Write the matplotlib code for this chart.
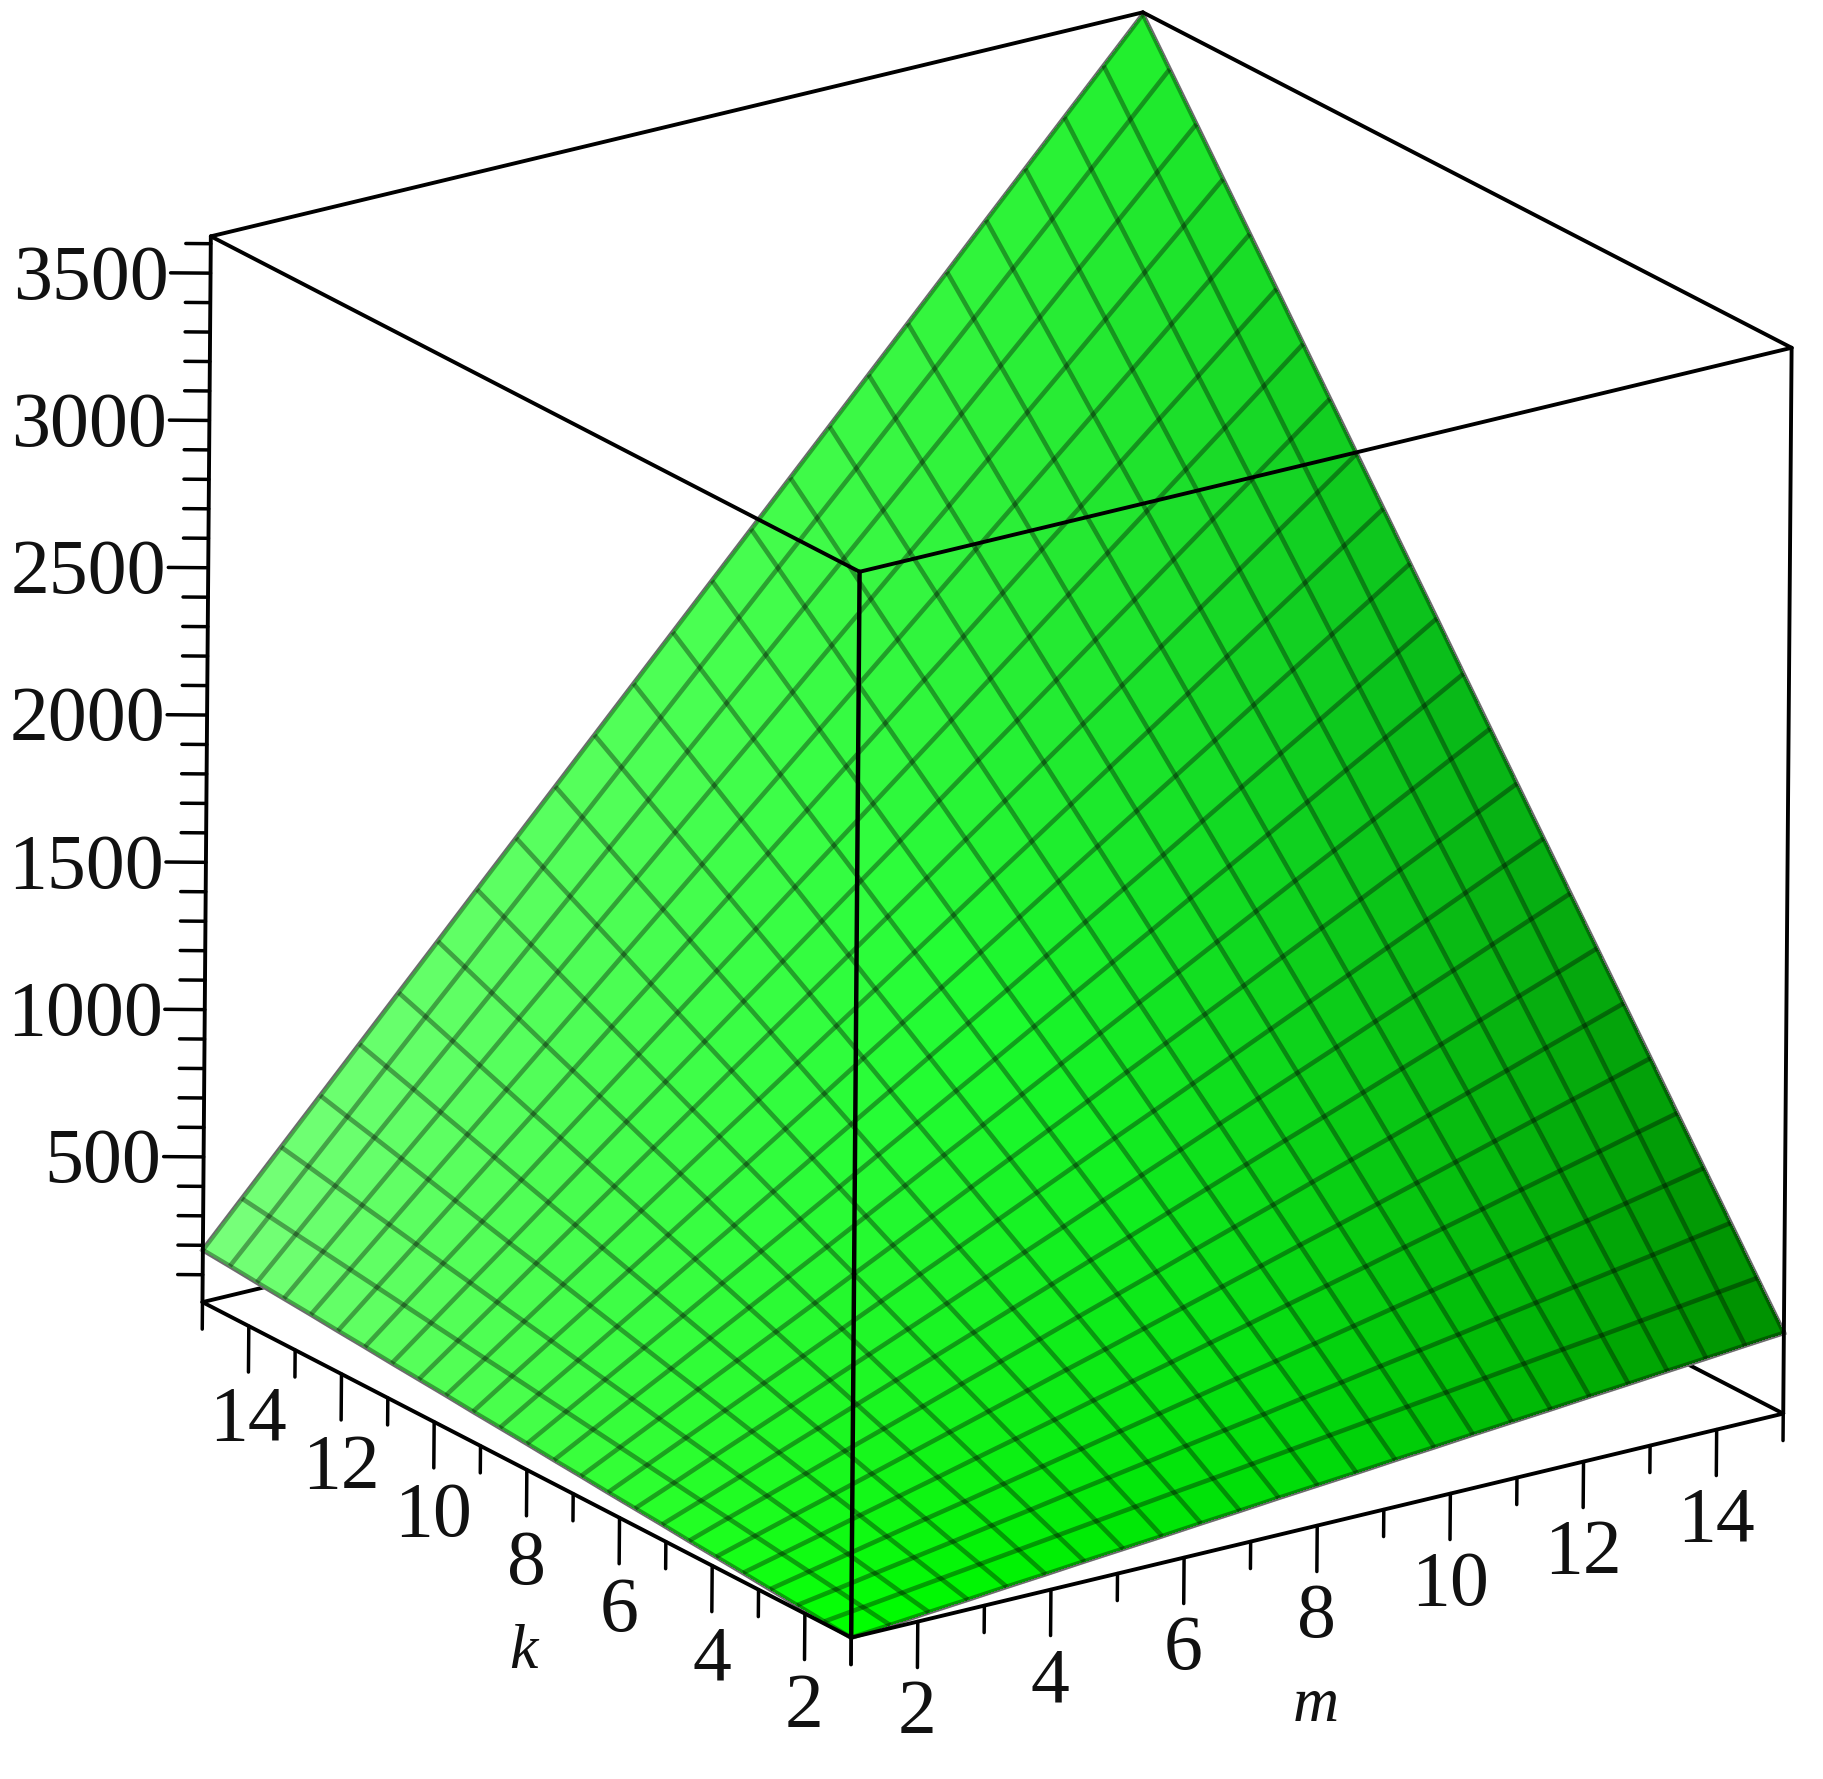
import numpy as np
import matplotlib
matplotlib.use('Agg')
from matplotlib import pyplot as plt
from mpl_toolkits.mplot3d import proj3d

z_rows = [
[7,18,30,41,53,64,76,87,98,110,121,133,144,155,167,178,190,201,212,224,235,247,258,270,281],
[14,31,48,65,82,99,116,133,150,167,183,200,217,234,251,268,285,302,319,336,352,369,386,403,420],
[22,44,67,89,111,134,156,179,201,223,246,268,290,313,335,358,380,402,425,447,470,492,514,537,559],
[29,57,85,113,141,168,196,224,252,280,308,336,364,391,419,447,475,503,531,559,587,614,642,670,698],
[37,70,103,137,170,203,237,270,303,337,370,403,437,470,504,537,570,604,637,670,704,737,770,804,837],
[44,83,122,160,199,238,277,316,355,394,432,471,510,549,588,627,665,704,743,782,821,860,899,937,976],
[51,96,140,184,229,273,317,362,406,450,495,539,583,628,672,716,761,805,849,894,938,982,1027,1071,1115],
[59,108,158,208,258,308,358,407,457,507,557,607,656,706,756,806,856,905,955,1005,1055,1105,1155,1204,1254],
[66,121,177,232,287,343,398,453,508,564,619,674,730,785,840,896,951,1006,1061,1117,1172,1227,1283,1338,1393],
[73,134,195,256,317,377,438,499,560,620,681,742,803,864,924,985,1046,1107,1168,1228,1289,1350,1411,1472,1532],
[81,147,213,280,346,412,478,545,611,677,744,810,876,942,1009,1075,1141,1207,1274,1340,1406,1473,1539,1605,1671],
[88,160,232,303,375,447,519,590,662,734,806,877,949,1021,1093,1165,1236,1308,1380,1452,1523,1595,1667,1739,1810],
[96,173,250,327,404,482,559,636,713,791,868,945,1022,1100,1177,1254,1331,1409,1486,1563,1640,1718,1795,1872,1949],
[103,186,268,351,434,517,599,682,765,848,930,1013,1096,1178,1261,1344,1427,1509,1592,1675,1758,1840,1923,2006,2089],
[110,199,287,375,463,551,640,728,816,904,993,1081,1169,1257,1345,1434,1522,1610,1698,1786,1875,1963,2051,2139,2228],
[118,211,305,399,492,586,680,774,867,961,1055,1148,1242,1336,1430,1523,1617,1711,1804,1898,1992,2085,2179,2273,2367],
[125,224,323,423,522,621,720,819,919,1018,1117,1216,1315,1414,1514,1613,1712,1811,1910,2010,2109,2208,2307,2406,2506],
[132,237,342,446,551,656,761,865,970,1075,1179,1284,1389,1493,1598,1703,1807,1912,2017,2121,2226,2331,2435,2540,2645],
[140,250,360,470,580,691,801,911,1021,1131,1241,1352,1462,1572,1682,1792,1902,2012,2123,2233,2343,2453,2563,2673,2784],
[147,263,378,494,610,725,841,957,1072,1188,1304,1419,1535,1651,1766,1882,1997,2113,2229,2344,2460,2576,2691,2807,2923],
[155,276,397,518,639,760,881,1002,1124,1245,1366,1487,1608,1729,1850,1971,2093,2214,2335,2456,2577,2698,2820,2941,3062],
[162,289,415,542,668,795,922,1048,1175,1301,1428,1555,1681,1808,1935,2061,2188,2314,2441,2568,2694,2821,2948,3074,3201],
[169,301,433,566,698,830,962,1094,1226,1358,1490,1623,1755,1887,2019,2151,2283,2415,2547,2679,2811,2944,3076,3208,3340],
[177,314,452,589,727,865,1002,1140,1277,1415,1553,1690,1828,1965,2103,2241,2378,2516,2653,2791,2929,3066,3204,3341,3479],
[184,327,470,613,756,899,1042,1186,1329,1472,1615,1758,1901,2044,2187,2330,2473,2616,2759,2902,3046,3189,3332,3475,3618],
]
m_ticks = [1,2,3,4,5,6,7,8,9,10,11,12,13,14,15]
k_ticks = [1,2,3,4,5,6,7,8,9,10,11,12,13,14,15]
z_ticks = list(range(100, 3700, 100))

M_LO, M_HI = 1, 15
Z_LO, Z_HI = 7, 3625

# colours of the shaded sheet: rows k low/mid/high, columns m low/mid/high
shade = np.array([[[0,255,0],[0,218,10],[0,140,0]],
                  [[68,255,72],[28,252,46],[8,184,24]],
                  [[122,255,125],[78,255,85],[32,242,45]]]) / 255.0

W, H = 1824, 1779
AZ = -125
ELEV = 20.8
EDGE_PX = 1137.0   # length of a box edge on screen
ZED_PX = 1067.0    # height of the box on screen
LW = 2.8

fig = plt.figure(figsize=(W/100, H/100), dpi=100)
side = 1912.0
ax = fig.add_axes([15.2/W, -27.8/H, side/W, side/H], projection='3d')
ax.set_proj_type('ortho')
ax.view_init(elev=ELEV, azim=AZ, roll=-0.45)
ax.set_box_aspect((1, 1, 1.004))
ax.set_xlim(M_LO, M_HI, view_margin=0)
ax.set_ylim(M_LO, M_HI, view_margin=0)
ax.set_zlim(Z_LO, Z_HI, view_margin=0)
ax.set_axis_off()
ax.computed_zorder = False
ax.patch.set_alpha(0)

Z = np.array(z_rows, dtype=float)
mm, kk = np.meshgrid(np.linspace(M_LO, M_HI, Z.shape[1]), np.linspace(M_LO, M_HI, Z.shape[0]))

# face colours
n = Z.shape[0]
u = np.linspace(0, 2, n)
fc = np.zeros((n, n, 4))
fc[..., 3] = 1
for i in range(n):
    for j in range(n):
        a = min(int(u[i]), 1); b = min(int(u[j]), 1)
        s = u[i]-a; t = u[j]-b
        fc[i, j, :3] = (shade[a,b]*(1-s)*(1-t) + shade[a,b+1]*(1-s)*t
                        + shade[a+1,b]*s*(1-t) + shade[a+1,b+1]*s*t)


def box_line(p, q, z=5, lw=LW):
    ax.plot([p[0], q[0]], [p[1], q[1]], [p[2], q[2]], color='k', lw=lw, zorder=z,
            solid_capstyle='round')


def label(x, y, z, s, **kw):
    # place the text where the 3d point lands on screen
    px, py, _ = proj3d.proj_transform(x, y, z, ax.get_proj())
    ax.text2D(px, py, s, transform=ax.transData, zorder=6, **kw)


E = (M_LO, M_LO, Z_LO); G = (M_HI, M_LO, Z_LO); C = (M_LO, M_HI, Z_LO); H_ = (M_HI, M_HI, Z_LO)
D = (M_LO, M_LO, Z_HI); F = (M_HI, M_LO, Z_HI); B = (M_LO, M_HI, Z_HI); A = (M_HI, M_HI, Z_HI)

# hidden behind the sheet
box_line(C, H_, z=1)
box_line(G, H_, z=1)
box_line(H_, A, z=1)

# soft grey rim of the sheet
for xs, ys, zs in [(mm[0], kk[0], Z[0]), (mm[-1], kk[-1], Z[-1]),
                   (mm[:, 0], kk[:, 0], Z[:, 0]), (mm[:, -1], kk[:, -1], Z[:, -1])]:
    ax.plot(xs, ys, zs, color='#a8a8a8', lw=3.6, zorder=1.5)

ax.plot_surface(mm, kk, Z, rstride=1, cstride=1, facecolors=fc, shade=False,
                linewidth=0, antialiased=False, zorder=2)
ax.plot_wireframe(mm, kk, Z, rstride=1, cstride=1, color='k', alpha=0.36, linewidth=3.3, zorder=3)

for p, q in [(C, E), (E, G), (B, C), (F, G), (B, A), (A, F), (B, D), (D, F)]:
    box_line(p, q)
box_line(D, E, lw=3.2)

# screen-left and screen-down expressed in data units
left = np.array([np.sin(np.radians(AZ)), -np.cos(np.radians(AZ))]) * (M_HI-M_LO) / EDGE_PX
down = (Z_HI-Z_LO) / ZED_PX

font = {'family': 'Liberation Serif', 'fontsize': 56, 'color': '#111111'}

for v in z_ticks:
    ln = 40 if v % 500 == 0 else 25
    box_line((M_LO, M_HI, v), (M_LO+left[0]*ln, M_HI+left[1]*ln, v), z=4, lw=2.5)
    if v % 500 == 0:
        label(M_LO+left[0]*(ln+2), M_HI+left[1]*(ln+2), v-down*7, str(v), ha='right', va='center', **font)

for v in m_ticks:
    ln = 46 if v % 2 == 0 else 27
    box_line((v, M_LO, Z_LO), (v, M_LO, Z_LO-down*ln), z=4, lw=2.5)
    if v % 2 == 0:
        label(v, M_LO, Z_LO-down*93, str(v), ha='center', va='center', **font)

for v in k_ticks:
    ln = 46 if v % 2 == 0 else 27
    box_line((M_LO, v, Z_LO), (M_LO, v, Z_LO-down*ln), z=4, lw=2.5)
    if v % 2 == 0:
        label(M_LO, v, Z_LO-down*95, str(v), ha='center', va='center', **font)

italic = dict(font, style='italic', fontsize=46)
label(8.0, M_LO, Z_LO-down*181, 'm', ha='center', va='center', **italic)
label(M_LO, 8.05, Z_LO-down*185, 'k', ha='center', va='center', **italic)

fig.savefig('out.png', dpi=100)
